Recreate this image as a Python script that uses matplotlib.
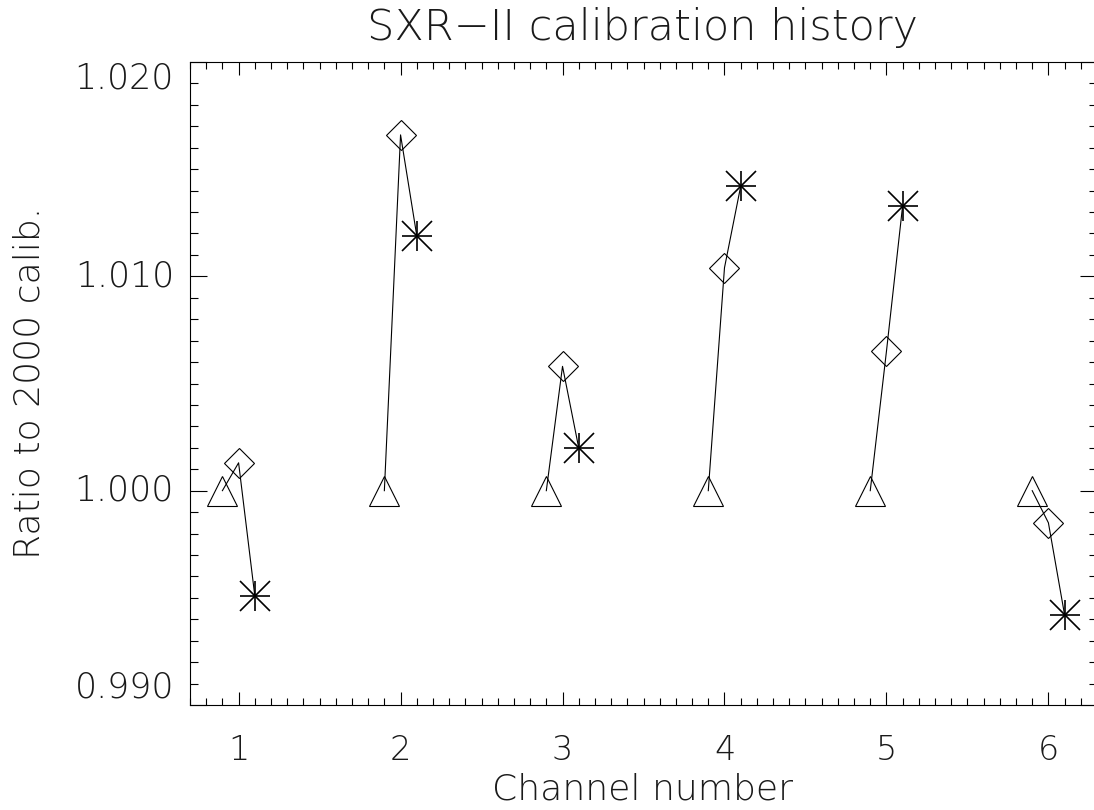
import matplotlib
matplotlib.use("Agg")
import matplotlib.pyplot as plt
from matplotlib.ticker import MultipleLocator

# ---- data ----
channels = [1, 2, 3, 4, 5, 6]
calib_offset = 0.1   # x offset of the earlier / later calibration per channel
ratio_2000 = [1.000, 1.000, 1.000, 1.000, 1.000, 1.000]          # triangles
ratio_mid = [1.0013, 1.0166, 1.0058, 1.0104, 1.0065, 0.9985]      # diamonds
ratio_new = [0.9951, 1.0119, 1.0020, 1.0142, 1.0133, 0.9942]      # asterisks
yticks = [0.990, 1.000, 1.010, 1.020]
ytick_labels = ["0.990", "1.000", "1.010", "1.020"]
title = "SXR\u2212II calibration history"
xlabel = "Channel number"
ylabel = "Ratio to 2000 calib."

plt.rcParams['font.family'] = ['DejaVu Sans']
W, H = 1094, 810
fig = plt.figure(figsize=(W / 100, H / 100), dpi=100)
ax = fig.add_axes([190 / W, (H - 705) / H, 907 / W, 643 / H])

tc = '#1a1a1a'
fw = 200
lw = 0.8

x_ref = [c - calib_offset for c in channels]
x_mid = list(channels)
x_new = [c + calib_offset for c in channels]

for i in range(len(channels)):
    ax.plot([x_ref[i], x_mid[i], x_new[i]],
            [ratio_2000[i], ratio_mid[i], ratio_new[i]],
            color='black', lw=lw)

ax.plot(x_ref, ratio_2000, ls='none', marker='^', ms=21.6,
        mfc='none', mec='black', mew=0.8)
ax.plot(x_mid, ratio_mid, ls='none', marker='D', ms=15.3,
        mfc='none', mec='black', mew=0.8)
ax.plot(x_new, ratio_new, ls='none', marker='+', ms=21.6,
        mfc='none', mec='black', mew=1.2)
ax.plot(x_new, ratio_new, ls='none', marker='x', ms=21.6,
        mfc='none', mec='black', mew=1.2)

ax.set_xlim(0.7, 6.3)
ax.set_ylim(0.990, 1.020)
ax.xaxis.set_major_locator(MultipleLocator(1))
ax.xaxis.set_minor_locator(MultipleLocator(0.1))
ax.set_yticks(yticks)
ax.yaxis.set_minor_locator(MultipleLocator(0.001))

for s in ax.spines.values():
    s.set_linewidth(0.8)
    s.set_color('black')

ax.tick_params(axis='both', which='both', direction='in', top=True, right=True,
               width=0.8, colors='black', labelcolor=tc)
ax.tick_params(axis='x', which='major', length=9.4, pad=21, labelsize=24)
ax.tick_params(axis='x', which='minor', length=4.7)
ax.tick_params(axis='y', which='major', length=12.2, labelleft=False)
ax.tick_params(axis='y', which='minor', length=6.1)
for lab in ax.get_xticklabels():
    lab.set_fontweight(fw)

# y tick labels (IDL style: end labels kept inside the axis range)
ytr = ax.get_yaxis_transform()
xoff = -16 / 907
for i, (v, t) in enumerate(zip(yticks, ytick_labels)):
    if i == 0:
        va = 'bottom'
    elif i == len(yticks) - 1:
        va = 'top'
    else:
        va = 'center'
    ax.text(xoff, v, t, transform=ytr, ha='right', va=va, fontsize=25,
            color=tc, fontweight=fw)

fig.text(643 / W, 1 - 27 / H, title, ha='center', va='center', fontsize=31,
         color=tc, fontweight=fw)
fig.text(643 / W, 1 - 790 / H, xlabel, ha='center', va='center', fontsize=26,
         color=tc, fontweight=fw)
fig.text(13 / W, 1 - 383 / H, ylabel, ha='left', va='center', rotation=90,
         fontsize=26, color=tc, fontweight=fw)

fig.savefig("out.png", dpi=100)
